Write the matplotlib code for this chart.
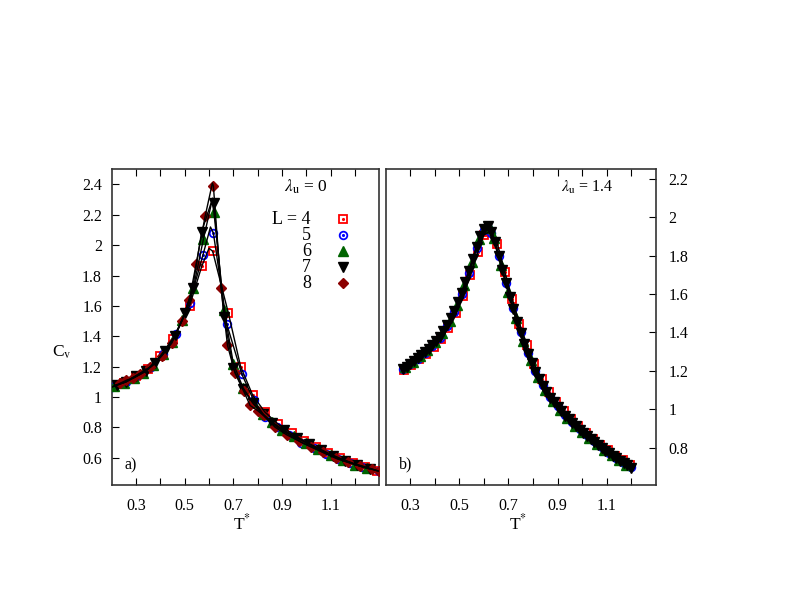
import numpy as np
import matplotlib
matplotlib.use("Agg")
import matplotlib.pyplot as plt
from matplotlib.ticker import FuncFormatter

plt.rcParams['font.family'] = ['Liberation Serif', 'DejaVu Serif']
plt.rcParams['mathtext.fontset'] = 'stix'

# ---- panel a): lambda_u = 0 ----
a_T4 = [0.20, 0.25, 0.30, 0.35, 0.40, 0.45, 0.52, 0.57, 0.615, 0.68, 0.73, 0.78, 0.83, 0.885,
        0.94, 0.99, 1.04, 1.09, 1.14, 1.19, 1.24, 1.29]
a_C4 = [1.065, 1.095, 1.14, 1.185, 1.27, 1.38, 1.60, 1.86, 1.96, 1.55, 1.20, 1.01, 0.90, 0.82,
        0.76, 0.71, 0.67, 0.63, 0.595, 0.565, 0.54, 0.515]
a_T5 = [0.20, 0.26, 0.30, 0.36, 0.41, 0.465, 0.52, 0.575, 0.618, 0.673, 0.735, 0.783, 0.83, 0.88,
        0.93, 0.98, 1.03, 1.08, 1.13, 1.18, 1.23, 1.30]
a_C5 = [1.065, 1.10, 1.14, 1.20, 1.285, 1.415, 1.62, 1.935, 2.08, 1.48, 1.15, 0.98, 0.87, 0.80,
        0.75, 0.70, 0.665, 0.625, 0.59, 0.565, 0.54, 0.51]
a_T6 = [0.21, 0.25, 0.29, 0.33, 0.37, 0.41, 0.447, 0.49, 0.536, 0.577, 0.62, 0.662, 0.70, 0.74,
        0.78, 0.82, 0.86, 0.90, 0.95, 1.00, 1.05, 1.10, 1.15, 1.20, 1.25]
a_C6 = [1.075, 1.095, 1.125, 1.16, 1.21, 1.28, 1.36, 1.51, 1.72, 2.04, 2.22, 1.575, 1.22, 1.06,
        0.965, 0.89, 0.835, 0.785, 0.74, 0.70, 0.655, 0.62, 0.585, 0.555, 0.53]
a_T7 = [0.22, 0.26, 0.30, 0.34, 0.38, 0.42, 0.46, 0.50, 0.533, 0.57, 0.62, 0.662, 0.70, 0.74,
        0.78, 0.82, 0.86, 0.91, 0.96, 1.01, 1.06, 1.11, 1.16, 1.21, 1.26]
a_C7 = [1.08, 1.10, 1.135, 1.17, 1.225, 1.30, 1.40, 1.55, 1.72, 2.09, 2.275, 1.525, 1.19, 1.05,
        0.96, 0.885, 0.83, 0.78, 0.73, 0.69, 0.65, 0.61, 0.58, 0.55, 0.525]
a_T8 = [0.234, 0.26, 0.286, 0.316, 0.358, 0.405, 0.447, 0.488, 0.519, 0.547, 0.584, 0.618, 0.649,
        0.676, 0.707, 0.742, 0.769, 0.80, 0.824, 0.872, 0.92, 0.97, 1.02, 1.07, 1.12, 1.17, 1.22,
        1.27, 1.297]
a_C8 = [1.09, 1.11, 1.124, 1.15, 1.196, 1.27, 1.355, 1.50, 1.64, 1.875, 2.19, 2.39, 1.72,
        1.34, 1.157, 1.04, 0.944, 0.91, 0.878, 0.80, 0.75, 0.71, 0.67, 0.635, 0.60, 0.57, 0.548,
        0.525, 0.512]
# fitted curve maxima
a_peakT = [0.600, 0.606, 0.612, 0.615, 0.614]
a_peakC = [1.98, 2.12, 2.29, 2.31, 2.41]

# ---- panel b): lambda_u = 1.4 ----
b_T7 = [0.27, 0.285, 0.30, 0.315, 0.33, 0.345, 0.36, 0.375, 0.39, 0.405, 0.42, 0.435, 0.45, 0.465,
        0.48, 0.495, 0.51, 0.525, 0.54, 0.555, 0.57, 0.585, 0.60, 0.615, 0.63, 0.645, 0.66, 0.675,
        0.69, 0.705, 0.72, 0.735, 0.75, 0.765, 0.78, 0.795, 0.81, 0.825, 0.84, 0.855, 0.87, 0.885,
        0.90, 0.915, 0.93, 0.945, 0.96, 0.975, 0.99, 1.005, 1.02, 1.035, 1.05, 1.065, 1.08, 1.095,
        1.11, 1.125, 1.14, 1.155, 1.17, 1.185, 1.20]
b_C7 = [1.210, 1.222, 1.236, 1.250, 1.265, 1.280, 1.296, 1.314, 1.333, 1.354, 1.377, 1.405, 1.437,
        1.473, 1.513, 1.558, 1.607, 1.662, 1.720, 1.782, 1.845, 1.900, 1.940, 1.955, 1.925, 1.870,
        1.800, 1.725, 1.655, 1.585, 1.520, 1.455, 1.395, 1.340, 1.290, 1.240, 1.195, 1.155, 1.120,
        1.090, 1.060, 1.035, 1.010, 0.988, 0.967, 0.947, 0.928, 0.910, 0.893, 0.876, 0.860, 0.844,
        0.828, 0.813, 0.798, 0.784, 0.770, 0.757, 0.744, 0.731, 0.719, 0.707, 0.696]
b_T4 = [0.275, 0.305, 0.335, 0.365, 0.395, 0.425, 0.455, 0.485, 0.515, 0.545, 0.575, 0.60, 0.625,
        0.655, 0.685, 0.715, 0.745, 0.775, 0.805, 0.835, 0.865, 0.895, 0.925, 0.955, 0.985, 1.015,
        1.045, 1.075, 1.105, 1.135, 1.165, 1.195]
b_C4 = [1.205, 1.232, 1.260, 1.290, 1.325, 1.368, 1.425, 1.500, 1.590, 1.700, 1.820, 1.910, 1.925,
        1.860, 1.715, 1.575, 1.445, 1.335, 1.235, 1.155, 1.090, 1.035, 0.990, 0.948, 0.912, 0.877,
        0.845, 0.815, 0.786, 0.758, 0.733, 0.710]
b_T5 = [0.27, 0.30, 0.33, 0.36, 0.39, 0.42, 0.45, 0.48, 0.51, 0.54, 0.57, 0.60, 0.615, 0.63, 0.66,
        0.69, 0.72, 0.75, 0.78, 0.81, 0.84, 0.87, 0.90, 0.93, 0.96, 0.99, 1.02, 1.05, 1.08, 1.11,
        1.14, 1.17, 1.20]
b_C5 = [1.208, 1.233, 1.262, 1.293, 1.330, 1.373, 1.432, 1.508, 1.600, 1.712, 1.838, 1.935, 1.945,
        1.920, 1.800, 1.660, 1.525, 1.400, 1.295, 1.200, 1.125, 1.065, 1.015, 0.972, 0.932, 0.897,
        0.864, 0.832, 0.801, 0.773, 0.747, 0.722, 0.698]
b_T6 = [0.28, 0.31, 0.34, 0.37, 0.40, 0.43, 0.46, 0.49, 0.52, 0.55, 0.58, 0.61, 0.625, 0.64, 0.67,
        0.70, 0.73, 0.76, 0.79, 0.82, 0.85, 0.88, 0.91, 0.94, 0.97, 1.00, 1.03, 1.06, 1.09, 1.12,
        1.15, 1.18]
b_C6 = [1.218, 1.245, 1.275, 1.308, 1.348, 1.395, 1.462, 1.545, 1.645, 1.765, 1.885, 1.955, 1.945,
        1.890, 1.750, 1.610, 1.475, 1.355, 1.255, 1.170, 1.100, 1.042, 0.995, 0.953, 0.915, 0.882,
        0.849, 0.818, 0.789, 0.761, 0.735, 0.711]

colors = ['#ff0000', '#0000ff', '#006400', '#000000', '#8b0000']
markers = ['s', 'o', '^', 'v', 'D']
sizes = [5.5, 5.5, 6.5, 6.5, 5]
Ls = ['L = 4', '5', '6', '7', '8']

W, H = 789, 610
fig = plt.figure(figsize=(W / 100, H / 100), dpi=100)
ax1 = fig.add_axes([111.7 / W, 1 - 485 / H, 267.6 / W, 315.7 / H])
ax2 = fig.add_axes([385.7 / W, 1 - 485 / H, 270 / W, 315.7 / H])


def draw_points(ax, T, C, i):
    if i in (0, 1):
        ax.plot(T, C, ls='none', marker=markers[i], ms=sizes[i], mfc='none',
                mec=colors[i], mew=1.3, zorder=2 + i)
        ax.plot(T, C, ls='none', marker='.', ms=2.5, color=colors[i], zorder=2 + i)
    else:
        ax.plot(T, C, ls='none', marker=markers[i], ms=sizes[i], color=colors[i],
                mec=colors[i], zorder=2 + i)


# panel a
a_sets = [(a_T4, a_C4), (a_T5, a_C5), (a_T6, a_C6), (a_T7, a_C7), (a_T8, a_C8)]
for i, (T, C) in enumerate(a_sets):
    draw_points(ax1, T, C, i)
for i, (T, C) in enumerate(a_sets):
    T = np.array(T + [a_peakT[i]])
    C = np.array(C + [a_peakC[i]])
    o = np.argsort(T)
    ax1.plot(T[o], C[o], color='black', lw=1.0, zorder=10)

# panel b
b_sets = [(b_T4, b_C4), (b_T5, b_C5), (b_T6, b_C6), (b_T7, b_C7)]
for i, (T, C) in enumerate(b_sets):
    draw_points(ax2, T, C, i)
for T, C in b_sets:
    ax2.plot(T, C, color='black', lw=1.2, zorder=10)

fmt = FuncFormatter(lambda v, p: '%g' % round(v, 2))
xt = [0.3, 0.4, 0.5, 0.6, 0.7, 0.8, 0.9, 1.0, 1.1, 1.2]
xlab = ['0.3', '', '0.5', '', '0.7', '', '0.9', '', '1.1', '']
for ax in (ax1, ax2):
    ax.set_xlim(0.2, 1.3)
    ax.set_xticks(xt)
    ax.set_xticklabels(xlab)
    ax.tick_params(axis='both', direction='in', length=5, width=0.8, labelsize=11.5,
                   top=True, bottom=True, pad=9)
    for s in ax.spines.values():
        s.set_linewidth(1.2)
        s.set_color('#333333')

ax1.set_ylim(0.42, 2.5)
ax1.set_yticks([0.6, 0.8, 1.0, 1.2, 1.4, 1.6, 1.8, 2.0, 2.2, 2.4])
ax1.yaxis.set_major_formatter(fmt)
ax1.tick_params(axis='y', left=True, right=False, pad=7)

ax2.set_ylim(0.605, 2.25)
ax2.set_yticks([0.8, 1.0, 1.2, 1.4, 1.6, 1.8, 2.0, 2.2])
ax2.yaxis.set_major_formatter(fmt)
ax2.yaxis.tick_right()
ax2.tick_params(axis='y', left=False, right=True, labelleft=False, labelright=True, pad=9)


def ftext(x, y, s, size=12.5, **kw):
    fig.text(x / W, 1 - y / H, s, va='center', fontsize=size, **kw)


ftext(306, 187, r'$\lambda_{\rm u}$ = 0', ha='center')
ftext(587, 187, r'$\lambda_{\rm u}$ = 1.4', size=11.5, ha='center')
ftext(131, 465, 'a)', size=11.5, ha='center')
ftext(406, 464, 'b)', size=11.5, ha='center')
ftext(242, 523, r'T$^{*}$', ha='center')
ftext(518, 523, r'T$^{*}$', ha='center')
ftext(62, 352, r'C$_{\rm v}$', ha='center')

# legend
leg_y = [219, 235, 251, 267, 283]
for i in range(5):
    ftext(311, leg_y[i], Ls[i], size=13, ha='right')
    xa = (342.7 - 111.7) / 267.6
    ya = (485 - leg_y[i]) / 315.7
    if i in (0, 1):
        ax1.plot([xa], [ya], transform=ax1.transAxes, marker=markers[i], ms=sizes[i],
                 mfc='none', mec=colors[i], mew=1.3, clip_on=False)
        ax1.plot([xa], [ya], transform=ax1.transAxes, marker='.', ms=2.5, color=colors[i])
    else:
        ax1.plot([xa], [ya], transform=ax1.transAxes, marker=markers[i], ms=sizes[i],
                 color=colors[i])

fig.savefig('out.png', dpi=100)
